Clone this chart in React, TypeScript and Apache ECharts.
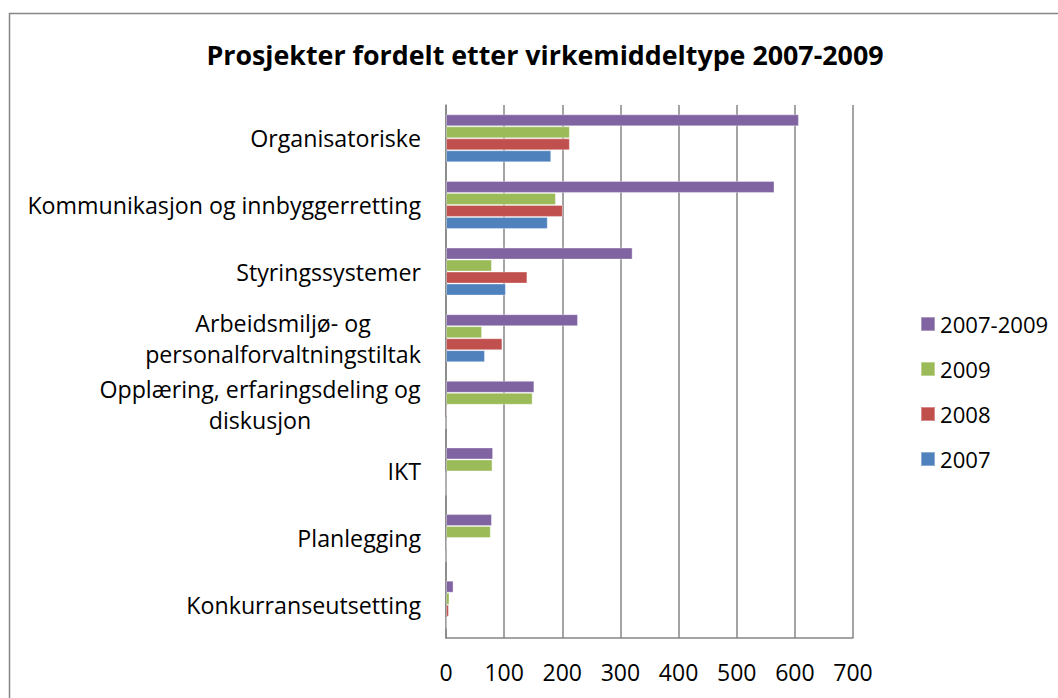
import React, { useEffect, useRef } from "react";
import * as echarts from "echarts";

const categories = [
  "Organisatoriske",
  "Kommunikasjon og innbyggerretting",
  "Styringssystemer",
  "Arbeidsmiljø- og\npersonalforvaltningstiltak",
  "Opplæring, erfaringsdeling og\ndiskusjon",
  "IKT",
  "Planlegging",
  "Konkurranseutsetting",
];

const seriesNames = ["2007-2009", "2009", "2008", "2007"];
const values2007_2009 = [607, 565, 321, 227, 152, 81, 79, 13];
const values2009 = [213, 189, 79, 62, 149, 80, 77, 6];
const values2008 = [213, 201, 140, 97, 2, 0, 1, 5];
const values2007 = [181, 175, 103, 67, 0, 0, 0, 1];
const xTicks = [0, 100, 200, 300, 400, 500, 600, 700];
const titleText = "Prosjekter fordelt etter virkemiddeltype 2007-2009";

const colors = ["#8064A2", "#9BBB59", "#C0504D", "#4F81BD"];
const FONT = "Open Sans";

function measure(text: string, size: number, family: string, weight = "normal") {
  const c = document.createElement("canvas");
  const ctx = c.getContext("2d")!;
  ctx.font = `${weight} ${size}px "${family}"`;
  return ctx.measureText(text).width;
}

function fit(text: string, target: number, weight = "normal") {
  const w = measure(text, 20, FONT, weight);
  return Math.round((20 * target / w) * 10) / 10;
}

export default function App() {
  const ref = useRef<HTMLDivElement>(null);
  useEffect(() => {
    if (!ref.current) return;
    const chart = echarts.init(ref.current, null, { renderer: "svg" });
    const LABEL_SIZE = fit("Kommunikasjon og innbyggerretting", 393);
    const TITLE_SIZE = fit(titleText, 676, "bold");
    const TICK_SIZE = fit("100", 39.5);
    const LEGEND_SIZE = fit("2007-2009", 108);
    const rich: Record<string, any> = {};
    const keyFor: Record<string, string> = {};
    categories.forEach((cat, i) => {
      const lines = cat.split("\n");
      if (lines.length > 1) {
        const w = Math.max(...lines.map((l) => measure(l, LABEL_SIZE, FONT)));
        const k = "c" + i;
        rich[k] = {
          width: Math.ceil(w),
          align: "center",
          fontSize: LABEL_SIZE,
          fontFamily: FONT,
          color: "#000",
          lineHeight: 31,
        };
        keyFor[cat] = k;
      }
    });
    const data = [values2007_2009, values2009, values2008, values2007];
    chart.setOption({
      animation: false,
      title: {
        text: titleText,
        left: 540,
        textAlign: "center",
        top: 36,
        textStyle: { fontFamily: FONT, fontWeight: "bold", fontSize: TITLE_SIZE, color: "#000" },
      },
      graphic: [
        {
          type: "rect",
          shape: { x: 9.5, y: 13.5, width: 1100, height: 800 },
          style: { fill: "none", stroke: "#868686", lineWidth: 1.5 },
          silent: true,
        },
      ],
      legend: {
        orient: "vertical",
        left: 915,
        top: 308,
        data: seriesNames,
        icon: "rect",
        itemWidth: 14,
        itemHeight: 14,
        itemGap: 23,
        textStyle: { fontFamily: FONT, fontSize: LEGEND_SIZE, color: "#000", lineHeight: 22 },
      },
      grid: { left: 446, right: 205, top: 105, bottom: 60, containLabel: false },
      xAxis: {
        type: "value",
        min: xTicks[0],
        max: xTicks[xTicks.length - 1],
        interval: 100,
        axisLine: { show: true, lineStyle: { color: "#868686", width: 1.5 } },
        axisTick: { show: false },
        splitLine: { show: true, lineStyle: { color: "#868686", width: 1.5 } },
        axisLabel: { fontFamily: FONT, fontSize: TICK_SIZE, color: "#000", margin: 22 },
      },
      yAxis: {
        type: "category",
        inverse: true,
        data: categories,
        axisLine: { show: true, lineStyle: { color: "#868686", width: 1.5 } },
        axisTick: { show: false },
        axisLabel: {
          fontFamily: FONT,
          fontSize: LABEL_SIZE,
          color: "#000",
          margin: 25,
          lineHeight: 31,
          rich,
          formatter: (v: string) => {
            const k = keyFor[v];
            if (!k) return v;
            return v.split("\n").map((l) => `{${k}|${l}}`).join("\n");
          },
        },
      },
      series: seriesNames.map((name, i) => ({
        name,
        type: "bar",
        data: data[i],
        barGap: "0%",
        barCategoryGap: "28%",
        itemStyle: { color: colors[i], borderColor: "rgba(255,255,255,0.35)", borderWidth: 1 },
      })),
    });
    return () => chart.dispose();
  }, []);
  return <div ref={ref} style={{ width: 1058, height: 698, position: "absolute", left: 0, top: 0 }} />;
}
